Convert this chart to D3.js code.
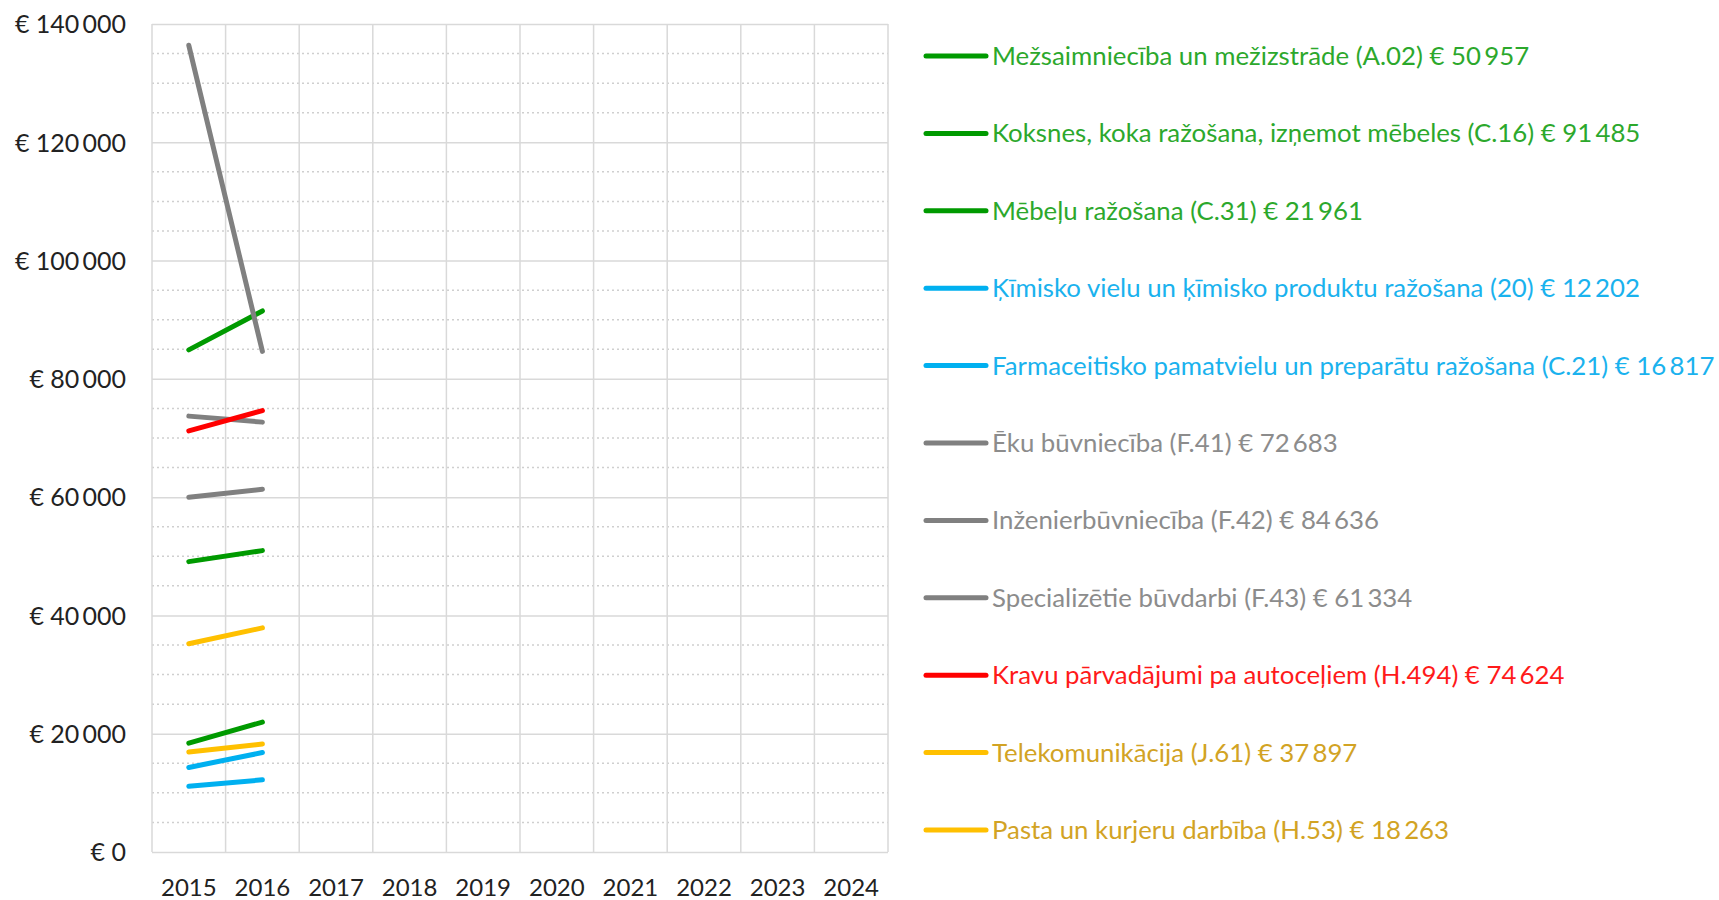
<!DOCTYPE html>
<html>
<head>
<meta charset="utf-8">
<script src="https://cdn.jsdelivr.net/npm/d3@7/dist/d3.min.js"></script>
<style>
  html, body { margin: 0; padding: 0; background: #fff; }
  svg { display: block; font-family: Lato, "Open Sans", sans-serif; }
</style>
</head>
<body>
<svg id="chart" width="1719" height="900"></svg>
<script>
// ---- data ----
const years = ["2015", "2016", "2017", "2018", "2019", "2020", "2021", "2022", "2023", "2024"];
const seriesNames = [
  "Mežsaimniecība un mežizstrāde (A.02)",
  "Koksnes, koka ražošana, izņemot mēbeles (C.16)",
  "Mēbeļu  ražošana (C.31)",
  "Ķīmisko vielu  un ķīmisko produktu ražošana (20)",
  "Farmaceitisko pamatvielu  un preparātu ražošana (C.21)",
  "Ēku būvniecība (F.41)",
  "Inženierbūvniecība (F.42)",
  "Specializētie  būvdarbi (F.43)",
  "Kravu pārvadājumi pa autoceļiem  (H.494)",
  "Telekomunikācija (J.61)",
  "Pasta un kurjeru darbība (H.53)"
];
const values2015 = [49100, 84900, 18400, 11100, 14300, 73700, 136400, 60000, 71200, 35200, 16900];
const values2016 = [50957, 91485, 21961, 12202, 16817, 72683, 84636, 61334, 74624, 37897, 18263];
const lineColors = ["#009A00", "#009A00", "#009A00", "#00B0F0", "#00B0F0", "#808080", "#808080", "#808080", "#FF0000", "#FFC000", "#FFC000"];
const textColors = ["#2CA82C", "#2CA82C", "#2CA82C", "#1AB2EE", "#1AB2EE", "#8C8C8C", "#8C8C8C", "#8C8C8C", "#FF1A1A", "#D2A324", "#D2A324"];
const yTicks = [0, 20000, 40000, 60000, 80000, 100000, 120000, 140000];

// ---- layout ----
const svg = d3.select("#chart");
const plot = { left: 152, right: 888, top: 24, bottom: 852 };

const x = d3.scaleBand().domain(years).range([plot.left, plot.right]).paddingInner(0).paddingOuter(0);
const y = d3.scaleLinear().domain([0, 140000]).range([plot.bottom, plot.top]);

const fmt = v => "€ " + d3.format(",")(v).replace(/,/g, "\u2009");

// minor dotted gridlines
const minor = d3.range(0, 140001, 5000).filter(v => v % 20000 !== 0);
svg.append("g").selectAll("line").data(minor).join("line")
  .attr("x1", plot.left).attr("x2", plot.right)
  .attr("y1", d => y(d)).attr("y2", d => y(d))
  .attr("stroke", "#CFCFCF").attr("stroke-width", 1.5)
  .attr("stroke-dasharray", "2,3");

// major gridlines via axis
svg.append("g")
  .attr("transform", `translate(${plot.left},0)`)
  .call(d3.axisLeft(y).tickValues(yTicks).tickSize(-(plot.right - plot.left)).tickFormat(""))
  .call(g => g.select(".domain").remove())
  .call(g => g.selectAll(".tick line").attr("stroke", "#D9D9D9").attr("stroke-width", 1.5));

// vertical gridlines (category boundaries)
const bounds = years.map(d => x(d)).concat([plot.right]);
svg.append("g").selectAll("line").data(bounds).join("line")
  .attr("x1", d => d).attr("x2", d => d)
  .attr("y1", plot.top).attr("y2", plot.bottom)
  .attr("stroke", "#D9D9D9").attr("stroke-width", 1.5);

// y axis labels
svg.append("g")
  .attr("transform", `translate(${plot.left - 26},0)`)
  .call(d3.axisLeft(y).tickValues(yTicks).tickSize(0).tickFormat(fmt))
  .call(g => g.select(".domain").remove())
  .call(g => g.selectAll("text")
    .attr("font-family", "Lato, sans-serif").attr("font-size", 25).attr("fill", "#222")
    .attr("dy", "0.35em").attr("x", 0));

// x axis labels
svg.append("g")
  .attr("transform", `translate(0,${plot.bottom + 36})`)
  .call(d3.axisBottom(x).tickSize(0))
  .call(g => g.select(".domain").remove())
  .call(g => g.selectAll("text")
    .attr("font-family", "Lato, sans-serif").attr("font-size", 24).attr("fill", "#222")
    .attr("dy", "0.35em").attr("y", 0));

// lines
const series = seriesNames.map((name, i) => ({
  name, i,
  pts: [{ year: "2015", v: values2015[i] }, { year: "2016", v: values2016[i] }]
}));
const line = d3.line().x(d => x(d.year) + x.bandwidth() / 2).y(d => y(d.v));
svg.append("g").selectAll("path").data(series).join("path")
  .attr("d", d => line(d.pts))
  .attr("fill", "none")
  .attr("stroke", d => lineColors[d.i])
  .attr("stroke-width", 5)
  .attr("stroke-linecap", "round");

// legend
const legY = d3.scalePoint().domain(d3.range(seriesNames.length)).range([56, 830]);
const leg = svg.append("g").selectAll("g").data(series).join("g")
  .attr("transform", d => `translate(924,${legY(d.i)})`);
leg.append("line").attr("x1", 2).attr("x2", 62).attr("y1", 0).attr("y2", 0)
  .attr("stroke", d => lineColors[d.i]).attr("stroke-width", 5).attr("stroke-linecap", "round");
leg.append("text").attr("x", 68).attr("dy", "0.35em")
  .attr("font-family", "Lato, sans-serif").attr("font-size", 25.8)
  .attr("fill", d => textColors[d.i])
  .text(d => d.name + " " + fmt(values2016[d.i]));
</script>
</body>
</html>
